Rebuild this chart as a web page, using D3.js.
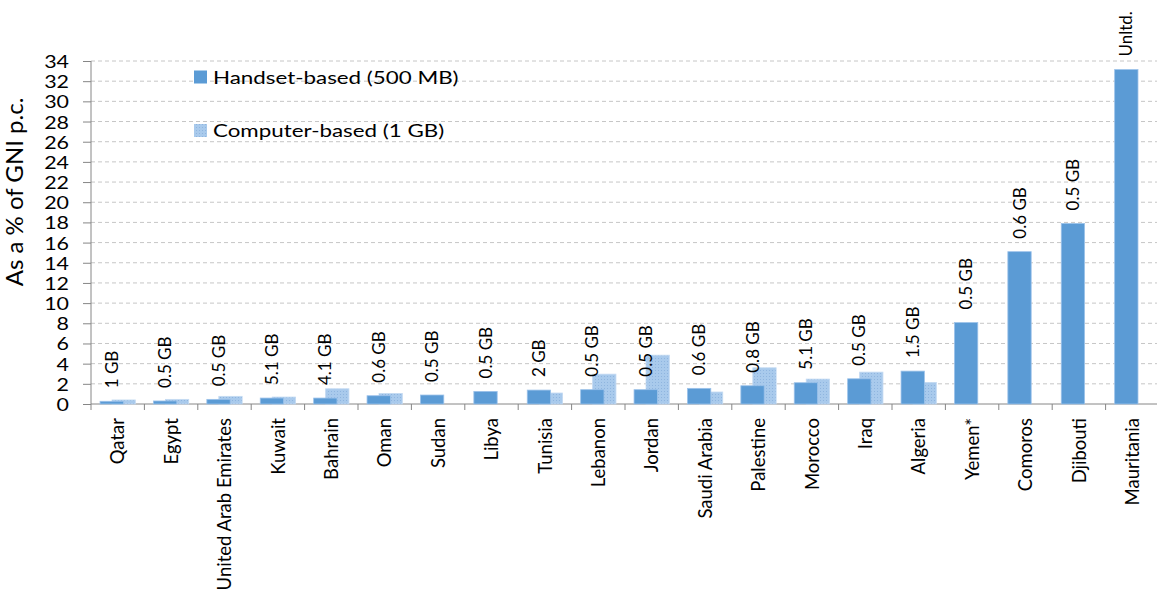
<!DOCTYPE html>
<html>
<head>
<meta charset="utf-8">
<script src="https://cdn.jsdelivr.net/npm/d3@7"></script>
<style>
  html, body { margin: 0; padding: 0; background: #fff; }
  svg { display: block; font-family: Lato, "Open Sans", sans-serif; }
</style>
</head>
<body>
<svg id="chart" width="1157" height="592"></svg>
<script>
const countries = ["Qatar","Egypt","United Arab Emirates","Kuwait","Bahrain","Oman","Sudan","Libya","Tunisia","Lebanon","Jordan","Saudi Arabia","Palestine","Morocco","Iraq","Algeria","Yemen*","Comoros","Djibouti","Mauritania"];
const handset = [0.27,0.3,0.46,0.59,0.59,0.82,0.89,1.25,1.38,1.42,1.42,1.55,1.81,2.11,2.5,3.26,8.07,15.1,17.9,33.15];
const computer = [0.4,0.46,0.76,0.69,1.51,1.05,null,null,1.09,2.96,4.84,1.19,3.59,2.47,3.16,2.14,null,null,null,null];
const dataLabels = ["1 GB","0.5 GB","0.5 GB","5.1 GB","4.1 GB","0.6 GB","0.5 GB","0.5 GB","2 GB","0.5 GB","0.5 GB","0.6 GB","0.8 GB","5.1 GB","0.5 GB","1.5 GB","0.5 GB","0.6 GB","0.5 GB","Unltd."];
const yTicks = [0,2,4,6,8,10,12,14,16,18,20,22,24,26,28,30,32,34];
const seriesNames = ["Handset-based (500 MB)","Computer-based (1 GB)"];
const yTitle = "As a % of GNI p.c.";

const svg = d3.select("#chart");
const defs = svg.append("defs");
const pat = defs.append("pattern").attr("id","dots").attr("patternUnits","userSpaceOnUse")
  .attr("width",3).attr("height",3);
pat.append("rect").attr("width",3).attr("height",3).attr("fill","#a9caec");
pat.append("rect").attr("x",1).attr("y",1).attr("width",1).attr("height",1).attr("fill","#8fb5df");

const x = d3.scaleBand().domain(countries).range([91, 1159]).padding(0);
const y = d3.scaleLinear().domain([0, 34]).range([404, 61]);
const bw = x.bandwidth() * 0.437;
const off = x.bandwidth() * 0.112;

// gridlines
svg.append("g").selectAll("line").data(yTicks.filter(d => d > 0)).join("line")
  .attr("x1", 91).attr("x2", 1159)
  .attr("y1", d => y(d)).attr("y2", d => y(d))
  .attr("stroke", "#c6c6c6").attr("stroke-width", 1).attr("stroke-dasharray", "4,3");

// y axis
const yAxis = d3.axisLeft(y).tickValues(yTicks).tickSize(8).tickPadding(14);
const gy = svg.append("g").attr("transform", "translate(91,0)").call(yAxis);
gy.select(".domain").attr("stroke", "#868686").attr("d", `M0,${y(34)}V${y(0)}`);
gy.selectAll(".tick line").attr("stroke", "#868686");
gy.selectAll(".tick text").attr("font-size", 18).attr("fill", "#000").attr("font-family", "Lato")
  .attr("dy", "0.36em")
  .each(function() {
    const t = d3.select(this);
    const xx = +t.attr("x");
    t.attr("x", null).attr("transform", `translate(${xx},0) scale(1.19,1)`);
  });

// x axis
const xAxis = d3.axisBottom(x).tickSize(0).tickFormat("");
const gx = svg.append("g").attr("transform", `translate(0,${y(0)})`).call(xAxis);
gx.select(".domain").attr("stroke", "#868686").attr("d", `M91,0H1159`);
svg.append("g").selectAll("line").data(countries).join("line")
  .attr("x1", d => x(d)).attr("x2", d => x(d)).attr("y1", y(0)).attr("y2", y(0) + 6)
  .attr("stroke", "#868686");

// computer bars (behind)
svg.append("g").selectAll("rect").data(countries.map((c,i) => ({c, v: computer[i]})).filter(d => d.v != null)).join("rect")
  .attr("x", d => x(d.c) + x.bandwidth()/2 + off - bw/2)
  .attr("y", d => y(d.v)).attr("width", bw).attr("height", d => y(0) - y(d.v))
  .attr("fill", "url(#dots)").attr("stroke", "#c4daf2").attr("stroke-width", 0.8);

// handset bars
svg.append("g").selectAll("rect").data(countries.map((c,i) => ({c, v: handset[i]}))).join("rect")
  .attr("x", d => x(d.c) + x.bandwidth()/2 - off - bw/2)
  .attr("y", d => y(d.v)).attr("width", bw).attr("height", d => y(0) - y(d.v))
  .attr("fill", "#5b9bd5").attr("stroke", "#9cc2ea").attr("stroke-width", 0.8);

// data labels
svg.append("g").selectAll("text").data(countries.map((c,i) => ({c, v: handset[i], t: dataLabels[i]}))).join("text")
  .attr("transform", d => `translate(${x(d.c) + x.bandwidth()/2 - off},${y(d.v) - 13}) rotate(-90)`)
  .attr("dy", "0.36em").attr("text-anchor", "start")
  .attr("font-size", 17).attr("fill", "#000")
  .text(d => d.t);

// category labels
svg.append("g").selectAll("text").data(countries).join("text")
  .attr("transform", d => `translate(${x(d) + x.bandwidth()/2},418) rotate(-90)`)
  .attr("dy", "0.36em").attr("text-anchor", "end")
  .attr("font-size", 18.5).attr("fill", "#000")
  .text(d => d);

// y title
svg.append("text").attr("transform", "translate(14,192) rotate(-90)")
  .attr("dy", "0.36em").attr("text-anchor", "middle")
  .attr("font-size", 24).attr("fill", "#000").text(yTitle);

// legend
const lg = svg.append("g");
const fills = ["#5b9bd5", "url(#dots)"];
const ly = [77, 130.5];
seriesNames.forEach((n, i) => {
  lg.append("rect").attr("x", 194).attr("y", ly[i] - 6.5).attr("width", 13).attr("height", 13)
    .attr("fill", fills[i]);
  lg.append("text").attr("transform", `translate(213,${ly[i] + 6.5}) scale(1.27,1)`)
    .attr("font-size", 17.6).attr("fill", "#000").text(n);
});
</script>
</body>
</html>
